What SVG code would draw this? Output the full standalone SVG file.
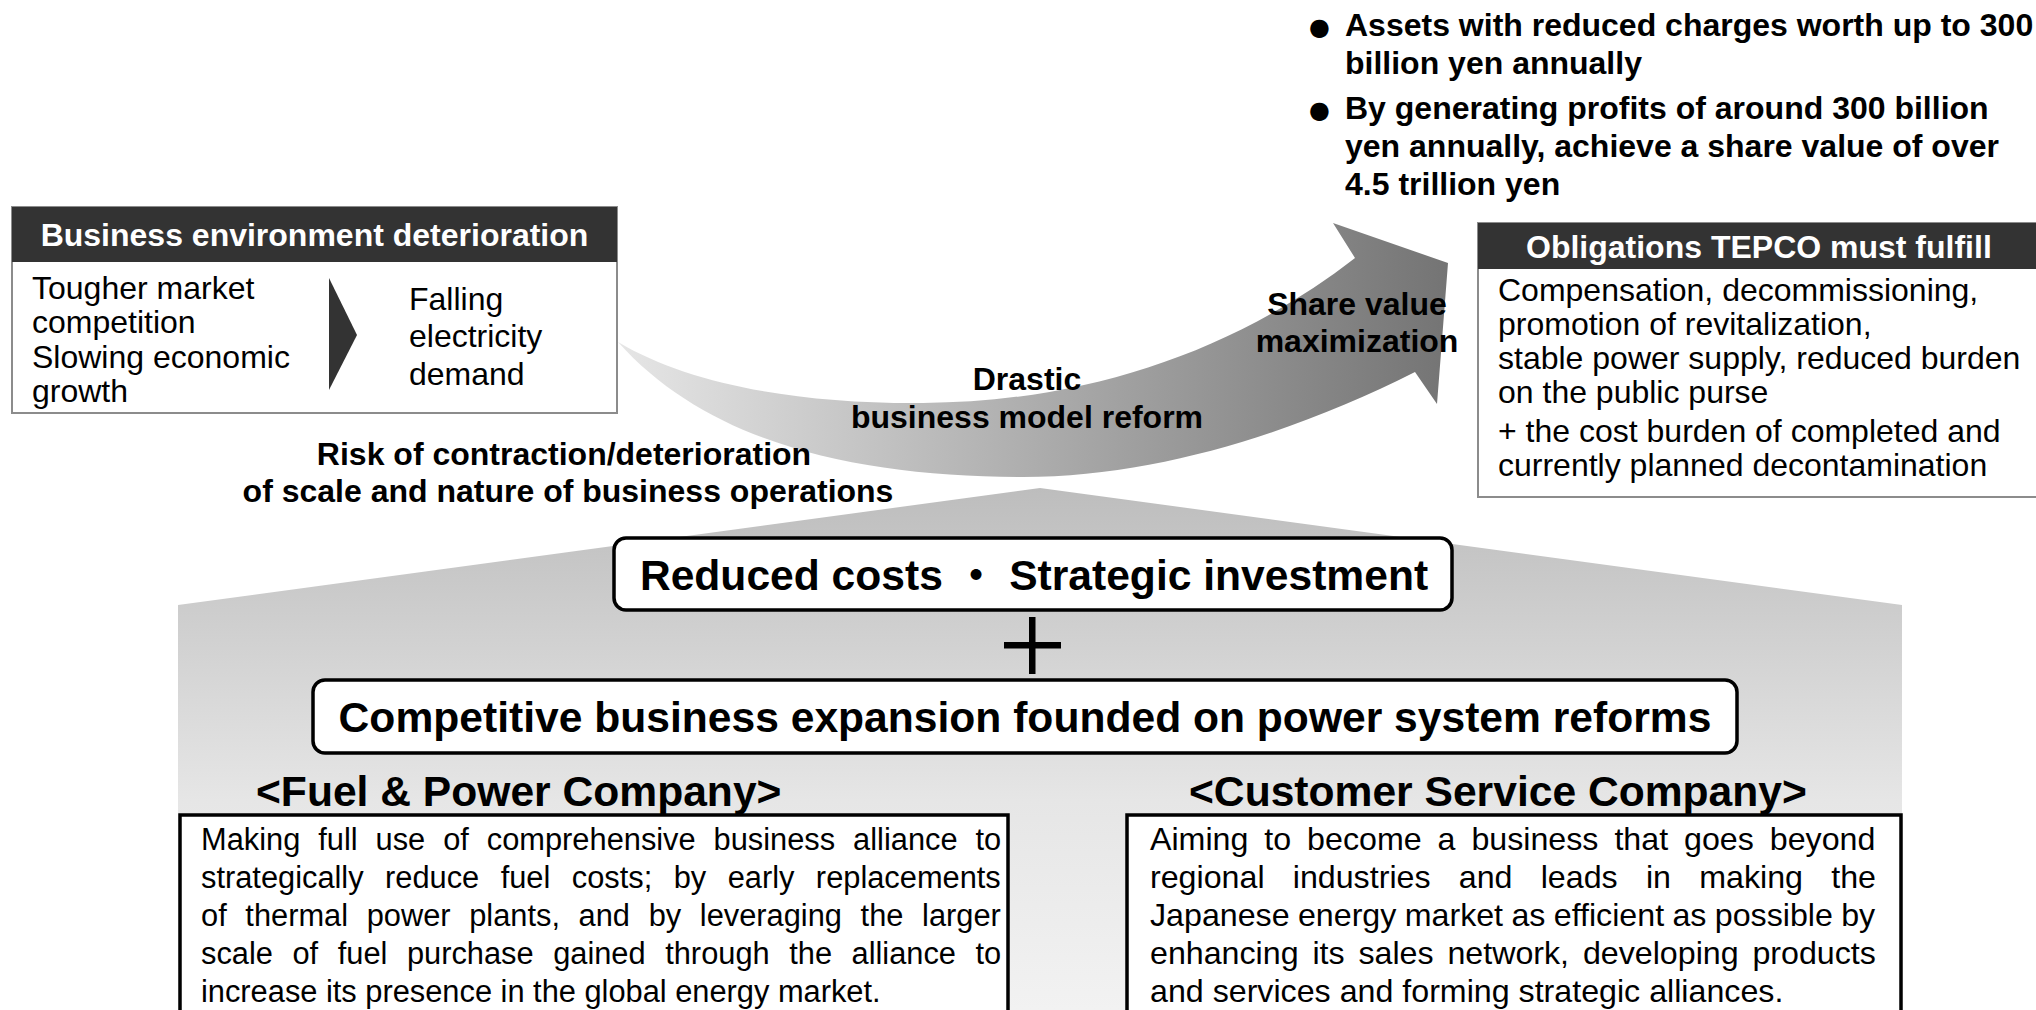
<svg xmlns="http://www.w3.org/2000/svg" width="2036" height="1010" viewBox="0 0 2036 1010">
<defs>
<linearGradient id="arrowGrad" gradientUnits="userSpaceOnUse" x1="618" y1="0" x2="1448" y2="0">
<stop offset="0" stop-color="#e6e6e6"/>
<stop offset="1" stop-color="#747474"/>
</linearGradient>
<linearGradient id="houseGrad" gradientUnits="userSpaceOnUse" x1="0" y1="488" x2="0" y2="1010">
<stop offset="0" stop-color="#bdbdbd"/>
<stop offset="0.6" stop-color="#e6e6e6"/>
<stop offset="1" stop-color="#f2f2f2"/>
</linearGradient>
<style>
.b{font-family:"Liberation Sans","Noto Sans CJK JP",Arial,sans-serif;font-weight:bold;fill:#000}
.r{font-family:"Liberation Sans",Arial,sans-serif;fill:#000}
.dot{font-family:"DejaVu Sans",sans-serif;font-size:24px;fill:#000}
.hdr{fill:#333333}
.gbox{fill:#fff;stroke:#8c8c8c;stroke-width:2}
.kbox{fill:#fff;stroke:#000;stroke-width:3.5}
.f32{font-size:32px}
.f43{font-size:42.6px}
.fl{font-size:30.8px}
.fr{font-size:32.2px}
</style>
</defs>
<rect width="2036" height="1010" fill="#fff"/>

<g id="house">
<path d="M178,605 L1040,488 L1902,605 L1902,1015 L178,1015 Z" fill="url(#houseGrad)"/>
</g>

<g id="connectors">
<path id="reform-arrow" d="M618,342 C690,385 800,404 923,403 C1080,402 1230,355 1355,258 L1333,223 L1448,263 L1437,404 L1415,372 C1300,430 1160,477 1023,477 C860,477 710,445 618,342 Z" fill="url(#arrowGrad)"/>
</g>

<g id="targets">
<text class="dot" x="1309" y="35">●</text>
<text class="b f32" x="1345" y="36">Assets with reduced charges worth up to 300</text>
<text class="b f32" x="1345" y="74">billion yen annually</text>
<text class="dot" x="1309" y="118">●</text>
<text class="b f32" x="1345" y="119">By generating profits of around 300 billion</text>
<text class="b f32" x="1345" y="157">yen annually, achieve a share value of over</text>
<text class="b f32" x="1345" y="195">4.5 trillion yen</text>
</g>

<g id="business-environment">
<rect class="gbox" x="12" y="207" width="605" height="206"/>
<rect class="hdr" x="12" y="207" width="605" height="55"/>
<text class="b f32" x="314.5" y="246" text-anchor="middle" style="fill:#fff">Business environment deterioration</text>
<text class="r f32" x="32" y="299">Tougher market</text>
<text class="r f32" x="32" y="333">competition</text>
<text class="r f32" x="32" y="368">Slowing economic</text>
<text class="r f32" x="32" y="402">growth</text>
<polygon points="329,278 357,335 329,390" fill="#333333"/>
<text class="r f32" x="409" y="310">Falling</text>
<text class="r f32" x="409" y="347">electricity</text>
<text class="r f32" x="409" y="385">demand</text>
</g>

<g id="obligations">
<rect class="gbox" x="1478" y="223" width="570" height="274"/>
<rect class="hdr" x="1478" y="223" width="570" height="46"/>
<text class="b f32" x="1526" y="258" style="fill:#fff">Obligations TEPCO must fulfill</text>
<text class="r f32" x="1498" y="301">Compensation, decommissioning,</text>
<text class="r f32" x="1498" y="335">promotion of revitalization,</text>
<text class="r f32" x="1498" y="369">stable power supply, reduced burden</text>
<text class="r f32" x="1498" y="403">on the public purse</text>
<text class="r f32" x="1498" y="442">+ the cost burden of completed and</text>
<text class="r f32" x="1498" y="476">currently planned decontamination</text>
</g>

<g id="arrow-labels">
<text class="b f32" x="1357" y="315" text-anchor="middle">Share value</text>
<text class="b f32" x="1357" y="352" text-anchor="middle">maximization</text>
<text class="b f32" x="1027" y="390" text-anchor="middle">Drastic</text>
<text class="b f32" x="1027" y="428" text-anchor="middle">business model reform</text>
</g>

<g id="risk">
<text class="b f32" x="564" y="465" text-anchor="middle">Risk of contraction/deterioration</text>
<text class="b f32" x="568" y="502" text-anchor="middle">of scale and nature of business operations</text>
</g>

<g id="reduced-costs">
<rect class="kbox" x="614" y="538" width="838" height="72" rx="12"/>
<text class="b f43" x="1034" y="590" text-anchor="middle">Reduced costs ・ Strategic investment</text>
</g>

<g id="plus">
<rect x="1029" y="617" width="6.5" height="57" fill="#000"/>
<rect x="1004" y="642" width="57" height="6.5" fill="#000"/>
</g>

<g id="competitive">
<rect class="kbox" x="313" y="680" width="1424" height="73" rx="12"/>
<text class="b f43" x="1025" y="732" text-anchor="middle">Competitive business expansion founded on power system reforms</text>
</g>

<g id="fuel-power">
<text class="b f43" x="256" y="806">&lt;Fuel &amp; Power Company&gt;</text>
<rect class="kbox" x="180" y="815" width="828" height="215"/>
<text class="r fl" x="201" y="850" word-spacing="9.4">Making full use of comprehensive business alliance to</text>
<text class="r fl" x="201" y="888" word-spacing="12.9">strategically reduce fuel costs; by early replacements</text>
<text class="r fl" x="201" y="926" word-spacing="10.1">of thermal power plants, and by leveraging the larger</text>
<text class="r fl" x="201" y="964" word-spacing="11.0">scale of fuel purchase gained through the alliance to</text>
<text class="r fl" x="201" y="1002">increase its presence in the global energy market.</text>
</g>

<g id="customer-service">
<text class="b f43" x="1189" y="806">&lt;Customer Service Company&gt;</text>
<rect class="kbox" x="1127" y="815" width="774" height="215"/>
<text class="r fr" x="1150" y="850" word-spacing="7.0">Aiming to become a business that goes beyond</text>
<text class="r fr" x="1150" y="888" word-spacing="19.3">regional industries and leads in making the</text>
<text class="r fr" x="1150" y="926" word-spacing="-0.6">Japanese energy market as efficient as possible by</text>
<text class="r fr" x="1150" y="964" word-spacing="4.9">enhancing its sales network, developing products</text>
<text class="r fr" x="1150" y="1002">and services and forming strategic alliances.</text>
</g>
</svg>
